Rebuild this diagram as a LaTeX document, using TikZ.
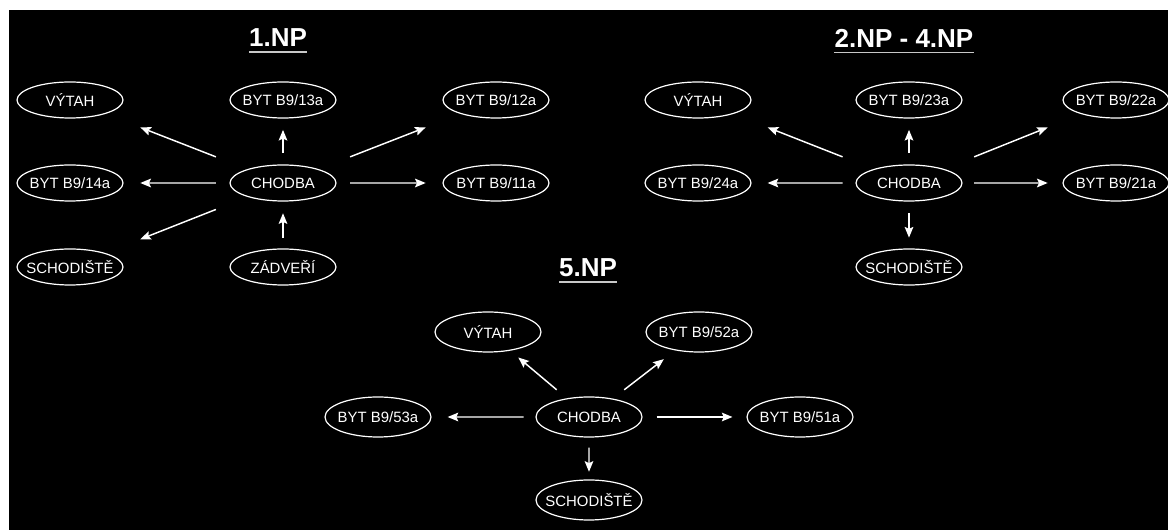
\documentclass[tikz,border=0pt]{standalone}
\usepackage{fontspec}
\setmainfont{Liberation Sans}
\usetikzlibrary{arrows.meta,calc,shapes.geometric}
\newcommand\rtxt[1]{\makebox[30pt]{#1}}
\begin{document}
\begin{tikzpicture}[x=0.75pt,y=-0.75pt,
  room/.style={ellipse,draw=white,line width=0.9pt,text=white,inner sep=0pt,
    minimum width=79.5pt,minimum height=27pt,font=\fontsize{11.2pt}{13pt}\selectfont},
  roombig/.style={room,minimum height=30pt},
  title/.style={text=white,inner sep=0pt,font=\bfseries\fontsize{19.5pt}{22pt}\selectfont},
  ul/.style={draw={rgb,255:red,200;green,200;blue,200},line width=1.3pt},
  conn/.style={draw=white,line width=1.1pt,-{Stealth[length=8pt,width=6.5pt,inset=1.5pt]}},
]
\fill[white] (0,0) rectangle (1168,530);
\fill[black] (9,10) rectangle (1168,530);
\useasboundingbox (0,0) rectangle (1168,530);

% ---- 1.NP
\node[title] (t1) at (278,38) {1.NP};
\draw[ul] ([yshift=-4pt]t1.base west) -- ([yshift=-4pt]t1.base east);
\node[room] (v1)  at (70,100)  {\rtxt{VÝTAH}};
\node[room] (b13) at (283,100) {\rtxt{BYT B9/13a}};
\node[room] (b12) at (496,100) {\rtxt{BYT B9/12a}};
\node[room] (b14) at (70,183)  {\rtxt{BYT B9/14a}};
\node[room] (c1)  at (283,183) {\rtxt{CHODBA}};
\node[room] (b11) at (496,183) {\rtxt{BYT B9/11a}};
\node[room] (s1)  at (70,267)  {\rtxt{SCHODIŠTĚ}};
\node[room] (z1)  at (283,267) {\rtxt{ZÁDVEŘÍ}};
\draw[conn] ($(c1)!0.315!(v1)$) -- ($(c1)!0.67!(v1)$);
\draw[conn] ($(c1)!0.315!(b14)$) -- ($(c1)!0.67!(b14)$);
\draw[conn] ($(c1)!0.315!(s1)$) -- ($(c1)!0.67!(s1)$);
\draw[conn] ($(c1)!0.36!(b13)$) -- ($(c1)!0.64!(b13)$);
\draw[conn] ($(c1)!0.315!(b12)$) -- ($(c1)!0.67!(b12)$);
\draw[conn] ($(c1)!0.315!(b11)$) -- ($(c1)!0.67!(b11)$);
\draw[conn] ($(z1)!0.35!(c1)$) -- ($(z1)!0.64!(c1)$);

% ---- 2.NP - 4.NP
\node[title] (t2) at (904,38) {2.NP - 4.NP};
\draw[ul] ([yshift=-4pt]t2.base west) -- ([yshift=-4pt]t2.base east);
\node[room] (v2)  at (698,100)  {\rtxt{VÝTAH}};
\node[room] (b23) at (909,100)  {\rtxt{BYT B9/23a}};
\node[room] (b22) at (1116,100) {\rtxt{BYT B9/22a}};
\node[room] (b24) at (698,183)  {\rtxt{BYT B9/24a}};
\node[room] (c2)  at (909,183)  {\rtxt{CHODBA}};
\node[room] (b21) at (1116,183) {\rtxt{BYT B9/21a}};
\node[room] (s2)  at (909,267)  {\rtxt{SCHODIŠTĚ}};
\draw[conn] ($(c2)!0.315!(v2)$) -- ($(c2)!0.67!(v2)$);
\draw[conn] ($(c2)!0.315!(b24)$) -- ($(c2)!0.67!(b24)$);
\draw[conn] ($(c2)!0.36!(b23)$) -- ($(c2)!0.64!(b23)$);
\draw[conn] ($(c2)!0.315!(b22)$) -- ($(c2)!0.67!(b22)$);
\draw[conn] ($(c2)!0.315!(b21)$) -- ($(c2)!0.67!(b21)$);
\draw[conn] ($(c2)!0.36!(s2)$) -- ($(c2)!0.65!(s2)$);

% ---- 5.NP
\node[title] (t3) at (588,268) {5.NP};
\draw[ul] ([yshift=-4pt]t3.base west) -- ([yshift=-4pt]t3.base east);
\node[roombig] (v3)  at (488,332) {\rtxt{VÝTAH}};
\node[roombig] (b52) at (699,332) {\rtxt{BYT B9/52a}};
\node[roombig] (b53) at (378,417) {\rtxt{BYT B9/53a}};
\node[roombig] (c3)  at (589,417) {\rtxt{CHODBA}};
\node[roombig] (b51) at (800,417) {\rtxt{BYT B9/51a}};
\node[roombig] (s3)  at (589,500) {\rtxt{SCHODIŠTĚ}};
\draw[conn] ($(c3)!0.32!(v3)$) -- ($(c3)!0.70!(v3)$);
\draw[conn] ($(c3)!0.32!(b52)$) -- ($(c3)!0.68!(b52)$);
\draw[conn] ($(c3)!0.31!(b53)$) -- ($(c3)!0.67!(b53)$);
\draw[conn] ($(c3)!0.32!(b51)$) -- ($(c3)!0.68!(b51)$);
\draw[conn] ($(c3)!0.37!(s3)$) -- ($(c3)!0.66!(s3)$);
\end{tikzpicture}
\end{document}
